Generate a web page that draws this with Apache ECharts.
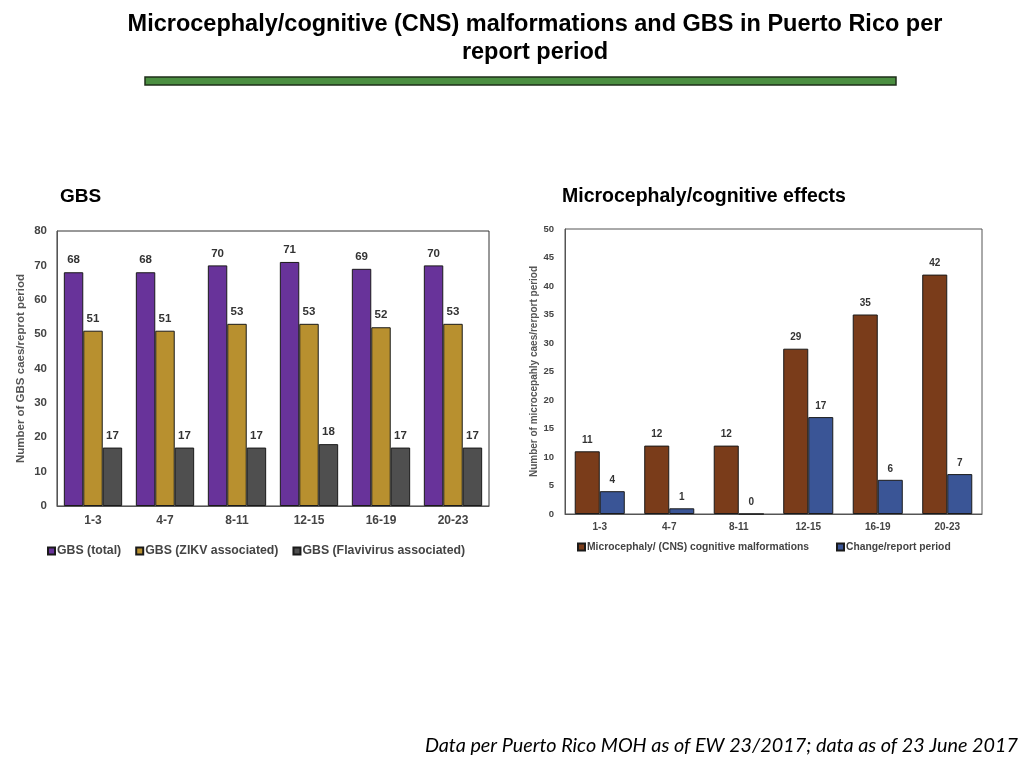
<!DOCTYPE html>
<html>
<head>
<meta charset="utf-8">
<script src="https://cdn.jsdelivr.net/npm/echarts@6/dist/echarts.min.js"></script>
<style>
  html, body { margin: 0; padding: 0; background: #fff; }
  #main { width: 1024px; height: 768px; }
</style>
</head>
<body>
<div id="main"></div>
<script>
// report periods (epi weeks)
var periods = ['1-3', '4-7', '8-11', '12-15', '16-19', '20-23'];

// GBS chart
var gbsTotal = [68, 68, 70, 71, 69, 70];
var gbsZikv = [51, 51, 53, 53, 52, 53];
var gbsFlavi = [17, 17, 17, 18, 17, 17];

// microcephaly chart
var microCases = [11, 12, 12, 29, 35, 42];
var microChange = [4, 1, 0, 17, 6, 7];

var myChart = echarts.init(document.getElementById('main'));

var labelStyle = {
  show: true,
  position: 'top',
  distance: 6,
  fontFamily: 'Liberation Sans',
  fontWeight: 'bold',
  color: '#333'
};

function bar(name, data, color, xi, fs) {
  return {
    name: name,
    type: 'bar',
    xAxisIndex: xi,
    yAxisIndex: xi,
    data: data,
    itemStyle: { color: color, borderColor: '#1a1a1a', borderWidth: 1 },
    label: Object.assign({}, labelStyle, { fontSize: fs }),
    emphasis: { disabled: true }
  };
}

var option = {
  animation: false,
  textStyle: { fontFamily: 'Liberation Sans' },
  title: [
    {
      text: 'Microcephaly/cognitive (CNS) malformations and GBS in Puerto Rico per\nreport period',
      left: 535, top: 11, textAlign: 'center', padding: 0,
      textStyle: { fontFamily: 'Liberation Sans', fontWeight: 'bold', fontSize: 23.5, lineHeight: 28, color: '#000' }
    },
    {
      text: 'GBS', left: 60, top: 187, padding: 0,
      textStyle: { fontWeight: 'bold', fontSize: 19, color: '#000' }
    },
    {
      text: 'Microcephaly/cognitive effects', left: 562, top: 187, padding: 0,
      textStyle: { fontWeight: 'bold', fontSize: 19.5, color: '#000' }
    },
    {
      text: 'Data per Puerto Rico MOH as of EW 23/2017; data as of 23 June 2017',
      right: 6, top: 736, padding: 0,
      textStyle: { fontFamily: 'Lato', fontStyle: 'italic', fontWeight: 'normal', fontSize: 19.8, color: '#000' }
    }
  ],
  graphic: [
    {
      type: 'rect',
      shape: { x: 145, y: 77, width: 751, height: 8 },
      style: { fill: '#4b8f41', stroke: '#1f2f1a', lineWidth: 1.5 }
    }
  ],
  legend: [
    {
      data: ['GBS (total)', 'GBS (ZIKV associated)', 'GBS (Flavivirus associated)'],
      left: 42, top: 540, icon: 'rect', itemWidth: 7, itemHeight: 7, itemGap: 14,
      textStyle: { fontSize: 12.3, fontWeight: 'bold', color: '#444', padding: [0, 0, 0, -3] }
    },
    {
      data: ['Microcephaly/ (CNS) cognitive malformations', 'Change/report period'],
      left: 572, top: 537, icon: 'rect', itemWidth: 7, itemHeight: 7, itemGap: 27,
      textStyle: { fontSize: 10.3, fontWeight: 'bold', color: '#444', padding: [0, 0, 0, -3] }
    }
  ],
  grid: [
    { left: 57, top: 231, width: 432, height: 275, show: true, borderColor: '#333', borderWidth: 1 },
    { left: 565, top: 229, width: 417, height: 285, show: true, borderColor: '#555', borderWidth: 1 }
  ],
  xAxis: [
    {
      type: 'category', gridIndex: 0, data: periods,
      axisTick: { show: false }, axisLine: { lineStyle: { color: '#555' } },
      axisLabel: { fontSize: 12, fontWeight: 'bold', color: '#444', margin: 9 }
    },
    {
      type: 'category', gridIndex: 1, data: periods,
      axisTick: { show: false }, axisLine: { lineStyle: { color: '#555' } },
      axisLabel: { fontSize: 10, fontWeight: 'bold', color: '#444', margin: 8 }
    }
  ],
  yAxis: [
    {
      type: 'value', gridIndex: 0, min: 0, max: 80, interval: 10,
      name: 'Number of GBS caes/reprot period', nameLocation: 'middle', nameGap: 30,
      nameTextStyle: { fontSize: 11.5, fontWeight: 'bold', color: '#555' },
      axisLine: { show: true, lineStyle: { color: '#555' } }, axisTick: { show: false },
      splitLine: { show: false },
      axisLabel: { fontSize: 11.5, fontWeight: 'bold', color: '#444', margin: 10 }
    },
    {
      type: 'value', gridIndex: 1, min: 0, max: 50, interval: 5,
      name: 'Number of microcepahly caes/rerport period', nameLocation: 'middle', nameGap: 25,
      nameTextStyle: { fontSize: 10, fontWeight: 'bold', color: '#555' },
      axisLine: { show: true, lineStyle: { color: '#555' } }, axisTick: { show: false },
      splitLine: { show: false },
      axisLabel: { fontSize: 9.5, fontWeight: 'bold', color: '#444', margin: 11 }
    }
  ],
  series: [
    Object.assign(bar('GBS (total)', gbsTotal, '#68339a', 0, 11.5), { barGap: '0%', barCategoryGap: '19%' }),
    bar('GBS (ZIKV associated)', gbsZikv, '#b8902f', 0, 11.5),
    bar('GBS (Flavivirus associated)', gbsFlavi, '#4f4f4f', 0, 11.5),
    Object.assign(bar('Microcephaly/ (CNS) cognitive malformations', microCases, '#7a3c1a', 1, 10), { barGap: '0%', barCategoryGap: '28%' }),
    bar('Change/report period', microChange, '#3a5596', 1, 10)
  ]
};

myChart.setOption(option);
</script>
</body>
</html>
